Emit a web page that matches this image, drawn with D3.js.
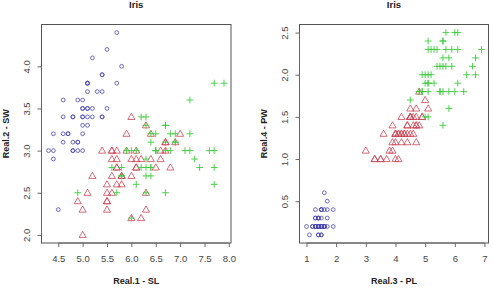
<!DOCTYPE html>
<html>
<head>
<meta charset="utf-8">
<script src="https://cdn.jsdelivr.net/npm/d3@7"></script>
<style>
  body { margin: 0; background: #fff; }
  svg { display: block; font-family: "Liberation Sans", Arial, sans-serif; }
  .tick-label { font-size: 9.5px; fill: #444; }
  .axis-title { font-size: 9px; font-weight: bold; fill: #222; }
  .main-title { font-size: 9.5px; font-weight: bold; fill: #222; }
</style>
</head>
<body>
<script>
// iris measurements, rows 1-50 setosa, 51-100 versicolor, 101-150 virginica
const sepalLength = [5.1,4.9,4.7,4.6,5.0,5.4,4.6,5.0,4.4,4.9,5.4,4.8,4.8,4.3,5.8,5.7,5.4,5.1,5.7,5.1,5.4,5.1,4.6,5.1,4.8,5.0,5.0,5.2,5.2,4.7,4.8,5.4,5.2,5.5,4.9,5.0,5.5,4.9,4.4,5.1,5.0,4.5,4.4,5.0,5.1,4.8,5.1,4.6,5.3,5.0,
  7.0,6.4,6.9,5.5,6.5,5.7,6.3,4.9,6.6,5.2,5.0,5.9,6.0,6.1,5.6,6.7,5.6,5.8,6.2,5.6,5.9,6.1,6.3,6.1,6.4,6.6,6.8,6.7,6.0,5.7,5.5,5.5,5.8,6.0,5.4,6.0,6.7,6.3,5.6,5.5,5.5,6.1,5.8,5.0,5.6,5.7,5.7,6.2,5.1,5.7,
  6.3,5.8,7.1,6.3,6.5,7.6,4.9,7.3,6.7,7.2,6.5,6.4,6.8,5.7,5.8,6.4,6.5,7.7,7.7,6.0,6.9,5.6,7.7,6.3,6.7,7.2,6.2,6.1,6.4,7.2,7.4,7.9,6.4,6.3,6.1,7.7,6.3,6.4,6.0,6.9,6.7,6.9,5.8,6.8,6.7,6.7,6.3,6.5,6.2,5.9];
const sepalWidth = [3.5,3.0,3.2,3.1,3.6,3.9,3.4,3.4,2.9,3.1,3.7,3.4,3.0,3.0,4.0,4.4,3.9,3.5,3.8,3.8,3.4,3.7,3.6,3.3,3.4,3.0,3.4,3.5,3.4,3.2,3.1,3.4,4.1,4.2,3.1,3.2,3.5,3.6,3.0,3.4,3.5,2.3,3.2,3.5,3.8,3.0,3.8,3.2,3.7,3.3,
  3.2,3.2,3.1,2.3,2.8,2.8,3.3,2.4,2.9,2.7,2.0,3.0,2.2,2.9,2.9,3.1,3.0,2.7,2.2,2.5,3.2,2.8,2.5,2.8,2.9,3.0,2.8,3.0,2.9,2.6,2.4,2.4,2.7,2.7,3.0,3.4,3.1,2.3,3.0,2.5,2.6,3.0,2.6,2.3,2.7,3.0,2.9,2.9,2.5,2.8,
  3.3,2.7,3.0,2.9,3.0,3.0,2.5,2.9,2.5,3.6,3.2,2.7,3.0,2.5,2.8,3.2,3.0,3.8,2.6,2.2,3.2,2.8,2.8,2.7,3.3,3.2,2.8,3.0,2.8,3.0,2.8,3.8,2.8,2.8,2.6,3.0,3.4,3.1,3.0,3.1,3.1,3.1,2.7,3.2,3.3,3.0,2.5,3.0,3.4,3.0];
const petalLength = [1.4,1.4,1.3,1.5,1.4,1.7,1.4,1.5,1.4,1.5,1.5,1.6,1.4,1.1,1.2,1.5,1.3,1.4,1.7,1.5,1.7,1.5,1.0,1.7,1.9,1.6,1.6,1.5,1.4,1.6,1.6,1.5,1.5,1.4,1.5,1.2,1.3,1.4,1.3,1.5,1.3,1.3,1.3,1.6,1.9,1.4,1.6,1.4,1.5,1.4,
  4.7,4.5,4.9,4.0,4.6,4.5,4.7,3.3,4.6,3.9,3.5,4.2,4.0,4.7,3.6,4.4,4.5,4.1,4.5,3.9,4.8,4.0,4.9,4.7,4.3,4.4,4.8,5.0,4.5,3.5,3.8,3.7,3.9,5.1,4.5,4.5,4.7,4.4,4.1,4.0,4.4,4.6,4.0,3.3,4.2,4.2,4.2,4.3,3.0,4.1,
  6.0,5.1,5.9,5.6,5.8,6.6,4.5,6.3,5.8,6.1,5.1,5.3,5.5,5.0,5.1,5.3,5.5,6.7,6.9,5.0,5.7,4.9,6.7,4.9,5.7,6.0,4.8,4.9,5.6,5.8,6.1,6.4,5.6,5.1,5.6,6.1,5.6,5.5,4.8,5.4,5.6,5.1,5.1,5.9,5.7,5.2,5.0,5.2,5.4,5.1];
const petalWidth = [0.2,0.2,0.2,0.2,0.2,0.4,0.3,0.2,0.2,0.1,0.2,0.2,0.1,0.1,0.2,0.4,0.4,0.3,0.3,0.3,0.2,0.4,0.2,0.5,0.2,0.2,0.4,0.2,0.2,0.2,0.2,0.4,0.1,0.2,0.2,0.2,0.2,0.1,0.2,0.2,0.3,0.3,0.2,0.6,0.4,0.3,0.2,0.2,0.2,0.2,
  1.4,1.5,1.5,1.3,1.5,1.3,1.6,1.0,1.3,1.4,1.0,1.5,1.0,1.4,1.3,1.4,1.5,1.0,1.5,1.1,1.8,1.3,1.5,1.2,1.3,1.4,1.4,1.7,1.5,1.0,1.1,1.0,1.2,1.6,1.5,1.6,1.5,1.3,1.3,1.3,1.2,1.4,1.2,1.0,1.3,1.2,1.3,1.3,1.1,1.3,
  2.5,1.9,2.1,1.8,2.2,2.1,1.7,1.8,1.8,2.5,2.0,1.9,2.1,2.0,2.4,2.3,1.8,2.2,2.3,1.5,2.3,2.0,2.0,1.8,2.1,1.8,1.8,1.8,2.1,1.6,1.9,2.0,2.2,1.5,1.4,2.3,2.4,1.8,1.8,2.1,2.4,2.3,1.9,2.3,2.5,2.3,1.9,2.0,2.3,1.8];
const species = d3.range(150).map(i => i < 50 ? "setosa" : i < 100 ? "versicolor" : "virginica");

const leftXTicks = [4.5, 5.0, 5.5, 6.0, 6.5, 7.0, 7.5, 8.0];
const leftYTicks = [2.0, 2.5, 3.0, 3.5, 4.0];
const rightXTicks = [1, 2, 3, 4, 5, 6, 7];
const rightYTicks = [0.5, 1.0, 1.5, 2.0, 2.5];

const color = {setosa: "#4848b0", versicolor: "#cc4455", virginica: "#3ccc3c"};

const svg = d3.select("body").append("svg")
  .attr("width", 492).attr("height", 288);

// R-style range: data extent padded by 4%
function rdomain(v) {
  const [a, b] = d3.extent(v), p = (b - a) * 0.04;
  return [a - p, b + p];
}

function panel(opts) {
  const x = d3.scaleLinear().domain(rdomain(opts.xs)).range([opts.left, opts.right]);
  const y = d3.scaleLinear().domain(rdomain(opts.ys)).range([opts.bottom, opts.top]);
  const g = svg.append("g");

  g.append("rect")
    .attr("x", opts.left).attr("y", opts.top)
    .attr("width", opts.right - opts.left).attr("height", opts.bottom - opts.top)
    .attr("fill", "none").attr("stroke", "#555").attr("stroke-width", 1);

  // x axis
  const xa = g.append("g").attr("transform", "translate(0," + opts.bottom + ")")
    .call(d3.axisBottom(x).tickValues(opts.xTicks).tickSize(4).tickSizeOuter(0)
      .tickFormat(opts.xFmt));
  xa.select(".domain").attr("stroke", "#666")
    .attr("d", "M" + x(opts.xTicks[0]) + ",0H" + x(opts.xTicks[opts.xTicks.length - 1]));
  xa.selectAll(".tick line").attr("stroke", "#666");
  xa.selectAll(".tick text").attr("class", "tick-label").attr("y", 12).attr("dy", "0.71em");

  // y axis, labels parallel to axis
  const ya = g.append("g").attr("transform", "translate(" + opts.left + ",0)")
    .call(d3.axisLeft(y).tickValues(opts.yTicks).tickSize(4).tickSizeOuter(0)
      .tickFormat(d3.format(".1f")));
  ya.select(".domain").attr("stroke", "#666")
    .attr("d", "M0," + y(opts.yTicks[0]) + "V" + y(opts.yTicks[opts.yTicks.length - 1]));
  ya.selectAll(".tick line").attr("stroke", "#666");
  ya.selectAll(".tick text").attr("class", "tick-label")
    .attr("x", null).attr("dy", null)
    .attr("text-anchor", "middle")
    .attr("transform", "translate(-11.5,0) rotate(-90)");

  const cx = (opts.left + opts.right) / 2;
  g.append("text").attr("class", "main-title").attr("x", cx).attr("y", 8)
    .attr("text-anchor", "middle").text("Iris");
  g.append("text").attr("class", "axis-title").attr("x", cx).attr("y", 284)
    .attr("text-anchor", "middle").text(opts.xLabel);
  g.append("text").attr("class", "axis-title")
    .attr("transform", "translate(" + (opts.left - 33) + "," + ((opts.top + opts.bottom) / 2) + ") rotate(-90)")
    .attr("text-anchor", "middle").text(opts.yLabel);

  const pts = d3.range(opts.xs.length).map(i => ({x: opts.xs[i], y: opts.ys[i], s: species[i]}));
  const tri = d3.symbol().type(d3.symbolTriangle).size(22);
  const plus = "M-3.4,0H3.4M0,-3.4V3.4";

  pts.forEach(d => {
    const px = x(d.x), py = y(d.y);
    if (d.s === "setosa") {
      g.append("circle").attr("cx", px).attr("cy", py).attr("r", 1.9)
        .attr("fill", "none").attr("stroke", color.setosa).attr("stroke-width", 0.8);
    } else if (d.s === "versicolor") {
      g.append("path").attr("d", tri).attr("transform", "translate(" + px + "," + (py + 0.5) + ")")
        .attr("fill", "none").attr("stroke", color.versicolor).attr("stroke-width", 0.8);
    } else {
      g.append("path").attr("d", plus).attr("transform", "translate(" + px + "," + py + ")")
        .attr("fill", "none").attr("stroke", color.virginica).attr("stroke-width", 0.9);
    }
  });
}

panel({
  xs: sepalLength, ys: sepalWidth,
  left: 41.5, right: 231, top: 24.5, bottom: 243,
  xTicks: leftXTicks, yTicks: leftYTicks, xFmt: d3.format(".1f"),
  xLabel: "Real.1 - SL", yLabel: "Real.2 - SW"
});
panel({
  xs: petalLength, ys: petalWidth,
  left: 299.5, right: 488.5, top: 24.5, bottom: 243,
  xTicks: rightXTicks, yTicks: rightYTicks, xFmt: d3.format("d"),
  xLabel: "Real.3 - PL", yLabel: "Real.4 - PW"
});
</script>
</body>
</html>
